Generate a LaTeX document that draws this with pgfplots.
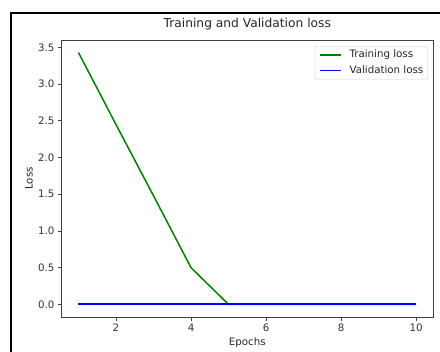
\documentclass[border=0pt]{standalone}
\usepackage{pgfplots}
\pgfplotsset{compat=1.18}
\usepackage{fontspec}
\setmainfont{DejaVu Sans}
\definecolor{mplgreen}{HTML}{008000}
\definecolor{mplblue}{HTML}{0000FF}
\definecolor{spine}{HTML}{404040}
\begin{document}
\begin{tikzpicture}
\useasboundingbox[fill=white] (0bp,0bp) rectangle (440bp,352bp);
\draw[black, line width=1.6bp] (11bp,0bp) -- (11bp,339bp) -- (440bp,339bp);
\begin{axis}[
  at={(61.6bp,35bp)}, anchor=south west,
  scale only axis, width=371.4bp, height=277bp,
  xmin=0.55, xmax=10.45, ymin=-0.1715, ymax=3.6015,
  xtick={2,4,6,8,10}, ytick={0,0.5,1,1.5,2,2.5,3,3.5},
  yticklabel style={/pgf/number format/fixed, /pgf/number format/fixed zerofill, /pgf/number format/precision=1},
  /pgf/number format/assume math mode=true,
  tick align=outside, tick pos=left,
  major tick length=3.6bp,
  axis line style={spine, line width=0.85bp},
  every tick/.style={spine, line width=0.8bp},
  tick label style={font=\fontsize{10.3}{12}\selectfont, text=black!80},
  label style={font=\fontsize{10.3}{12}\selectfont, text=black!85},
  xlabel={Epochs}, ylabel={Loss},
  xlabel style={at={(axis description cs:0.5,-0.094)}, anchor=center},
  ylabel style={at={(axis description cs:-0.088,0.5)}, anchor=center},
  title={Training and Validation loss},
  title style={at={(axis description cs:0.5,1.036)}, anchor=center, font=\fontsize{12.3}{14}\selectfont, text=black!85},
  legend style={at={(axis description cs:0.9865,0.978)}, anchor=north east,
    draw=black!20, rounded corners=2bp, fill=white,
    font=\fontsize{10.3}{12}\selectfont, text=black!85,
    nodes={inner sep=0.5bp, text height=8bp, text depth=2.5bp},
    row sep=4bp, inner xsep=4bp, inner ysep=3bp,
    /tikz/every odd column/.append style={column sep=7.5bp}},
  legend cell align=left,
  legend image code/.code={\draw[#1] (0bp,0bp) -- (21bp,0bp);},
]
\addplot[color=mplgreen, line width=1.5bp] coordinates {
(1,3.43) (2,2.45) (3,1.48) (4,0.50) (5,0.0) (6,0.0) (7,0.0) (8,0.0) (9,0.0) (10,0.0)};
\addlegendentry{Training loss}
\addplot[color=mplblue, line width=1.5bp] coordinates {
(1,0.003) (2,0.003) (3,0.003) (4,0.003) (5,0.003) (6,0.003) (7,0.003) (8,0.003) (9,0.003) (10,0.003)};
\addlegendentry{Validation loss}
\end{axis}
\end{tikzpicture}
\end{document}
